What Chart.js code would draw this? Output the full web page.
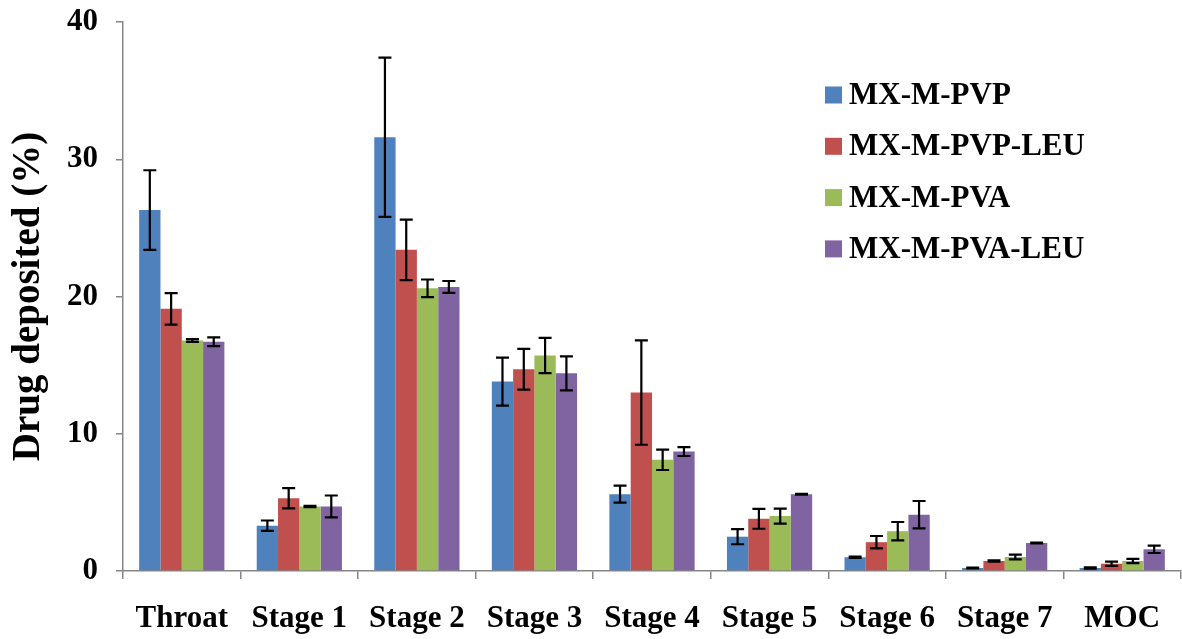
<!DOCTYPE html>
<html>
<head>
<meta charset="utf-8">
<script src="https://cdn.jsdelivr.net/npm/chart.js@4"></script>
<style>
  html, body { margin: 0; padding: 0; background: #fff; }
  #wrap { width: 1182px; height: 639px; }
</style>
</head>
<body>
<div id="wrap"><canvas id="chart" width="1182" height="639"></canvas></div>
<script>
// categories and series
const stages = ['Throat', 'Stage 1', 'Stage 2', 'Stage 3', 'Stage 4', 'Stage 5', 'Stage 6', 'Stage 7', 'MOC'];
const seriesNames = ['MX-M-PVP', 'MX-M-PVP-LEU', 'MX-M-PVA', 'MX-M-PVA-LEU'];
const seriesColors = ['#4F81BD', '#C0504D', '#9BBB59', '#8064A2'];

const pvp     = [26.3, 3.3, 31.6, 13.8, 5.6, 2.5, 1.0, 0.22, 0.22];
const pvpLeu  = [19.1, 5.3, 23.4, 14.7, 13.0, 3.8, 2.1, 0.73, 0.53];
const pva     = [16.8, 4.7, 20.6, 15.7, 8.1, 4.0, 2.9, 1.02, 0.73];
const pvaLeu  = [16.7, 4.7, 20.7, 14.4, 8.7, 5.6, 4.1, 2.04, 1.58];

const pvpErr    = [2.9, 0.38, 5.8, 1.75, 0.62, 0.55, 0.05, 0.03, 0.05];
const pvpLeuErr = [1.15, 0.74, 2.2, 1.48, 3.8, 0.72, 0.45, 0.05, 0.16];
const pvaErr    = [0.1, 0.05, 0.64, 1.29, 0.74, 0.55, 0.67, 0.17, 0.16];
const pvaLeuErr = [0.32, 0.8, 0.43, 1.24, 0.32, 0.03, 1.0, 0.03, 0.27];

const yTicks = [0, 10, 20, 30, 40];

const values = [pvp, pvpLeu, pva, pvaLeu];
const errors = [pvpErr, pvpLeuErr, pvaErr, pvaLeuErr];

const serif = "'Liberation Serif', 'Times New Roman', serif";
const axisGray = '#868686';

// error bars drawn on top of each bar
const errorBars = {
    id: 'errorBars',
    afterDatasetsDraw(chart) {
        const ctx = chart.ctx;
        const y = chart.scales.y;
        ctx.save();
        ctx.strokeStyle = '#000';
        ctx.lineWidth = 2.2;
        chart.data.datasets.forEach((ds, i) => {
            const meta = chart.getDatasetMeta(i);
            meta.data.forEach((bar, j) => {
                const v = ds.data[j], e = errors[i][j];
                const top = y.getPixelForValue(v + e);
                const bot = y.getPixelForValue(v - e);
                const x = bar.x, w = 6.5;
                ctx.beginPath();
                ctx.moveTo(x, top); ctx.lineTo(x, bot);
                ctx.moveTo(x - w, top); ctx.lineTo(x + w, top);
                ctx.moveTo(x - w, bot); ctx.lineTo(x + w, bot);
                ctx.stroke();
            });
        });
        ctx.restore();
    }
};

// legend inside the plot, top right
const boxLegend = {
    id: 'boxLegend',
    afterDraw(chart) {
        const ctx = chart.ctx;
        ctx.save();
        ctx.font = 'bold 31px ' + serif;
        ctx.textBaseline = 'middle';
        chart.data.datasets.forEach((ds, i) => {
            const cy = 95 + i * 51.3;
            ctx.fillStyle = ds.backgroundColor;
            ctx.fillRect(825, cy - 8.5, 17, 17);
            ctx.fillStyle = '#000';
            ctx.fillText(ds.label, 849, cy + 1);
        });
        ctx.restore();
    }
};

const chart = document.querySelector('#chart').getContext('2d');

new Chart(chart, {
    type: 'bar',
    data: {
        labels: stages,
        datasets: values.map((d, i) => ({
            label: seriesNames[i],
            data: d,
            backgroundColor: seriesColors[i],
            borderWidth: 0,
            categoryPercentage: 0.725,
            barPercentage: 1.0
        }))
    },
    options: {
        responsive: false,
        animation: false,
        devicePixelRatio: 1,
        layout: { padding: { top: 22, right: 1, left: 0, bottom: 0 } },
        plugins: {
            legend: { display: false },
            tooltip: { enabled: false }
        },
        scales: {
            x: {
                grid: { drawOnChartArea: false, drawTicks: true, tickLength: 8, color: axisGray, lineWidth: 1.5, offset: true },
                border: { color: axisGray, width: 1.5 },
                ticks: { color: '#000', font: { family: serif, size: 31, weight: 'bold' }, padding: 21, maxRotation: 0, autoSkip: false },
                afterFit(scale) {
                    scale.height = 68;
                    scale.paddingLeft = 0;
                    scale.paddingRight = 0;
                }
            },
            y: {
                min: 0,
                max: 40,
                afterBuildTicks(scale) { scale.ticks = yTicks.map(v => ({ value: v })); },
                grid: { drawOnChartArea: false, drawTicks: true, tickLength: 7, color: axisGray, lineWidth: 1.5 },
                border: { color: axisGray, width: 1.5 },
                ticks: { color: '#000', font: { family: serif, size: 31, weight: 'bold' }, padding: 18 },
                title: {
                    display: true,
                    text: 'Drug deposited (%)',
                    color: '#000',
                    font: { family: serif, size: 39, weight: 'bold' },
                    padding: { top: 6, bottom: 0 }
                },
                afterFit(scale) {
                    scale.width = 123;
                    scale.paddingTop = 0;
                    scale.paddingBottom = 0;
                }
            }
        }
    },
    plugins: [errorBars, boxLegend]
});
</script>
</body>
</html>
